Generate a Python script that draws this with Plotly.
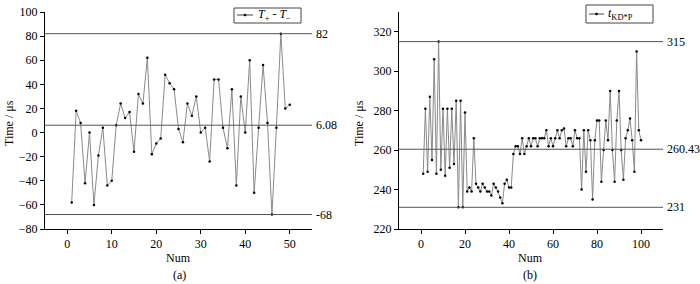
import plotly.graph_objects as go

# ---- data (a) ----
num_a = list(range(1, 51))
diff_a = [-58, 18, 8, -42, 0, -60, -19, 4, -44, -40,
          6, 24, 12, 17, -16, 32, 24, 62, -18, -9,
          -5, 48, 41, 36, 3, -8, 24, 14, 30, 0,
          4, -24, 44, 44, 4, -13, 36, -44, 30, 0,
          60, -50, 4, 56, 8, -68, 4, 82, 20, 23]
ref_a = [82, 6.08, -68]
ref_a_labels = ["82", "6.08", "-68"]

# ---- data (b) ----
num_b = list(range(1, 101))
t_b = [248, 281, 249, 287, 255, 306, 248, 315, 250, 281,
       247, 281, 251, 281, 253, 285, 231, 285, 231, 279,
       239, 241, 239, 266, 243, 241, 239, 243, 241, 239,
       239, 237, 243, 241, 239, 236, 233, 243, 245, 241,
       241, 258, 262, 262, 258, 266, 258, 262, 266, 262,
       266, 266, 262, 266, 266, 266, 270, 262, 266, 262,
       266, 270, 266, 270, 271, 262, 266, 266, 262, 270,
       266, 266, 240, 270, 249, 270, 265, 235, 265, 275,
       275, 244, 260, 275, 265, 290, 260, 244, 275, 290,
       260, 245, 266, 270, 276, 265, 249, 310, 270, 265]
ref_b = [315, 260.43, 231]
ref_b_labels = ["315", "260.43", "231"]

name_a = "<i>T</i><sub>+</sub> - <i>T</i><sub>−</sub>"
name_b = "<i>t</i><sub>KD*P</sub>"

W, H = 700, 284
FONT = "Liberation Serif"
LINE_C = "#8a8a8a"
REF_C = "#555555"
FS = 12

fig = go.Figure()
fig.add_trace(go.Scatter(
    x=num_a, y=diff_a, mode="lines+markers", xaxis="x", yaxis="y",
    line=dict(color=LINE_C, width=1), marker=dict(color="black", size=2.5),
    name=name_a, showlegend=False))
fig.add_trace(go.Scatter(
    x=num_b, y=t_b, mode="lines+markers", xaxis="x2", yaxis="y2",
    line=dict(color=LINE_C, width=1), marker=dict(color="black", size=2.5),
    name=name_b, showlegend=False))

def px_x(p):
    return p / W

def px_y(p):
    return 1 - p / H

shapes = []
annotations = []
for axn, refs, labels in (("", ref_a, ref_a_labels), ("2", ref_b, ref_b_labels)):
    for v, lab in zip(refs, labels):
        shapes.append(dict(type="line", xref=f"x{axn} domain", yref=f"y{axn}",
                           x0=0, x1=1, y0=v, y1=v,
                           line=dict(color=REF_C, width=1)))
        annotations.append(dict(xref=f"x{axn} domain", yref=f"y{axn}", x=1, y=v,
                                xshift=2, xanchor="left", yanchor="middle",
                                text=lab, showarrow=False,
                                font=dict(family=FONT, size=FS, color="black")))

for cx, lab in ((9, "Time / μs"), (359, "Time / μs")):
    annotations.append(dict(xref="paper", yref="paper", x=px_x(cx), y=px_y(123),
                            text=lab, textangle=-90, showarrow=False,
                            xanchor="center", yanchor="middle",
                            font=dict(family=FONT, size=FS, color="black")))
for cx in (178, 530):
    annotations.append(dict(xref="paper", yref="paper", x=px_x(cx), y=px_y(258),
                            text="Num", showarrow=False, xanchor="center", yanchor="middle",
                            font=dict(family=FONT, size=FS, color="black")))
for cx, lab in ((180, "(a)"), (530, "(b)")):
    annotations.append(dict(xref="paper", yref="paper", x=px_x(cx), y=px_y(275),
                            text=lab, showarrow=False, xanchor="center", yanchor="middle",
                            font=dict(family=FONT, size=FS, color="black")))

# hand-drawn legend boxes (line sample + dot + label)
for (bx0, bx1, by0, by1, lx0, lx1, ly, tx, lab) in (
        (234, 301, 8, 23, 237, 253, 15, 256, name_a),
        (586, 653, 5, 23, 589, 604, 14, 606, name_b)):
    shapes.append(dict(type="rect", xref="paper", yref="paper",
                       x0=px_x(bx0), x1=px_x(bx1), y0=px_y(by1), y1=px_y(by0),
                       line=dict(color="#444", width=1), fillcolor="white"))
    shapes.append(dict(type="line", xref="paper", yref="paper",
                       x0=px_x(lx0), x1=px_x(lx1), y0=px_y(ly), y1=px_y(ly),
                       line=dict(color="#444", width=1)))
    cx = (lx0 + lx1) / 2
    shapes.append(dict(type="circle", xref="paper", yref="paper",
                       x0=px_x(cx - 1.1), x1=px_x(cx + 1.1),
                       y0=px_y(ly + 1.1), y1=px_y(ly - 1.1),
                       line=dict(color="black", width=0.5), fillcolor="black"))
    annotations.append(dict(xref="paper", yref="paper", x=px_x(tx), y=px_y(ly),
                            text=lab, showarrow=False, xanchor="left", yanchor="middle",
                            font=dict(family=FONT, size=FS, color="black")))

axis_common = dict(showline=True, linecolor="black", linewidth=1, mirror=False,
                   showgrid=False, zeroline=False, ticks="outside", ticklen=4,
                   tickcolor="black", tickwidth=1, automargin=False,
                   tickfont=dict(family=FONT, size=FS, color="black"))

ydom = [px_y(229), px_y(12)]
fig.update_layout(
    width=W, height=H, template="none",
    paper_bgcolor="white", plot_bgcolor="white",
    margin=dict(l=0, r=0, t=0, b=0),
    font=dict(family=FONT, size=FS, color="black"),
    xaxis=dict(domain=[px_x(45), px_x(312)], range=[-5, 55], dtick=10, tick0=0,
               anchor="y", **axis_common),
    yaxis=dict(domain=ydom, range=[-80, 100], dtick=20, tick0=0,
               anchor="x", **axis_common),
    xaxis2=dict(domain=[px_x(399), px_x(663)], range=[-10, 110], dtick=20, tick0=0,
                anchor="y2", **axis_common),
    yaxis2=dict(domain=ydom, range=[220, 330], dtick=20, tick0=220,
                anchor="x2", **axis_common),
    shapes=shapes, annotations=annotations, showlegend=False,
)

fig.write_html("out.html", config={"displayModeBar": False},
               post_script="document.body.style.margin='0';document.body.style.overflow='hidden';")
